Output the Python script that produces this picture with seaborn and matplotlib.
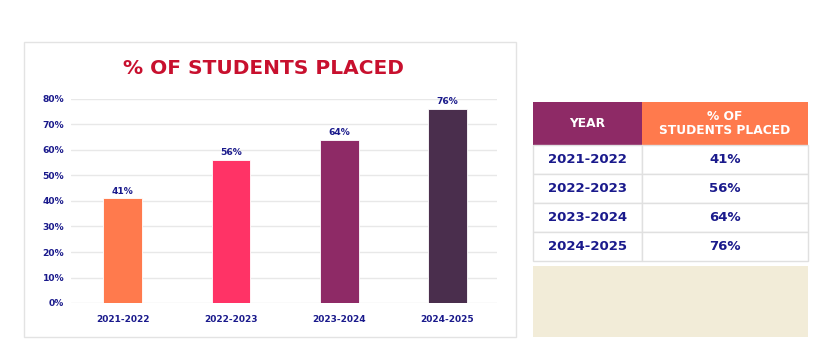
import matplotlib
matplotlib.use("Agg")
import matplotlib.pyplot as plt
from matplotlib.patches import Rectangle
import seaborn as sns
import pandas as pd

years = ["2021-2022", "2022-2023", "2023-2024", "2024-2025"]
placed = [41, 56, 64, 76]
bar_colors = ["#FF7A4D", "#FF3366", "#8E2A66", "#4A2E4D"]
y_ticks = [0, 10, 20, 30, 40, 50, 60, 70, 80]
table_header = ["YEAR", "% OF\nSTUDENTS PLACED"]
header_colors = ["#8E2A66", "#FF7A4D"]

NAVY = "#1A1A8C"
TITLE_RED = "#C8102E"
W, H = 833, 354

sns.set_theme(style="white")
plt.rcParams["font.family"] = ["DejaVu Sans"]

df = pd.DataFrame({"year": years, "placed": placed})

fig = plt.figure(figsize=(W / 100, H / 100), dpi=100)


def fig_box(x0, y0, x1, y1):
    # pixel box (top-left origin) -> figure fraction rect
    return [x0 / W, 1 - y1 / H, (x1 - x0) / W, (y1 - y0) / H]


# chart panel frame (behind the axes)
l, b, w, h = fig_box(24, 42, 516, 337)
fig.patches.append(Rectangle((l, b), w, h, transform=fig.transFigure,
                             facecolor="white", edgecolor="#E3E3E3", lw=1, zorder=-5))

fig.text(263 / W, 1 - 69 / H, "% OF STUDENTS PLACED", ha="center", va="center",
         color=TITLE_RED, fontsize=14.5, fontweight="heavy")

ax = fig.add_axes(fig_box(71, 99, 497, 303))
ax.patch.set_alpha(0)
sns.barplot(data=df, x="year", y="placed", hue="year", palette=bar_colors,
            width=0.36, legend=False, ax=ax, saturation=1,
            edgecolor="white", linewidth=0.6)
ax.set_ylim(0, 80)
ax.set_xlim(-0.48, len(years) - 0.54)
ax.set_yticks(y_ticks)
ax.set_yticklabels([f"{t}%" for t in y_ticks])
ax.yaxis.grid(True, color="#E8E8E8", lw=1)
ax.set_axisbelow(True)
for s in ax.spines.values():
    s.set_visible(False)
ax.set_xlabel("")
ax.set_ylabel("")
ax.tick_params(axis="y", length=0, pad=5, labelsize=6.6, labelcolor=NAVY)
ax.tick_params(axis="x", length=0, pad=9, labelsize=6.5, labelcolor=NAVY)
for lab in ax.get_xticklabels() + ax.get_yticklabels():
    lab.set_fontweight("bold")
for i, v in enumerate(placed):
    ax.annotate(f"{v}%", (i, v), xytext=(0, 2), textcoords="offset points",
                ha="center", va="bottom", fontsize=6.6, fontweight="bold", color=NAVY)

# table
header_h, row_h = 43, 29
col_split = (642 - 533) / (808 - 533)
tab = fig.add_axes(fig_box(533, 102, 808, 102 + header_h + row_h * len(years)))
tab.set_xlim(0, 1)
tab.set_ylim(header_h + row_h * len(years), 0)
tab.axis("off")
col_x = [0, col_split, 1]
for c in range(2):
    tab.add_patch(Rectangle((col_x[c], 0), col_x[c + 1] - col_x[c], header_h,
                            facecolor=header_colors[c], edgecolor="none"))
    tab.text((col_x[c] + col_x[c + 1]) / 2, header_h / 2, table_header[c],
             ha="center", va="center", color="white", fontsize=8.8,
             fontweight="bold", linespacing=1.05)
for r, (yr, v) in enumerate(zip(years, placed)):
    y0 = header_h + r * row_h
    for c in range(2):
        tab.add_patch(Rectangle((col_x[c], y0), col_x[c + 1] - col_x[c], row_h,
                                facecolor="white", edgecolor="#E0E0E0", lw=1,
                                clip_on=False))
    tab.text(col_split / 2, y0 + row_h / 2, yr, ha="center", va="center",
             color=NAVY, fontsize=9.5, fontweight="bold")
    tab.text((col_split + 1) / 2, y0 + row_h / 2, f"{v}%", ha="center", va="center",
             color=NAVY, fontsize=9.5, fontweight="bold")

# beige box below table
l, b, w, h = fig_box(533, 266, 808, 337)
fig.patches.append(Rectangle((l, b), w, h, transform=fig.transFigure,
                             facecolor="#F2ECD8", edgecolor="none", zorder=-5))

fig.savefig("out.png", dpi=100)
